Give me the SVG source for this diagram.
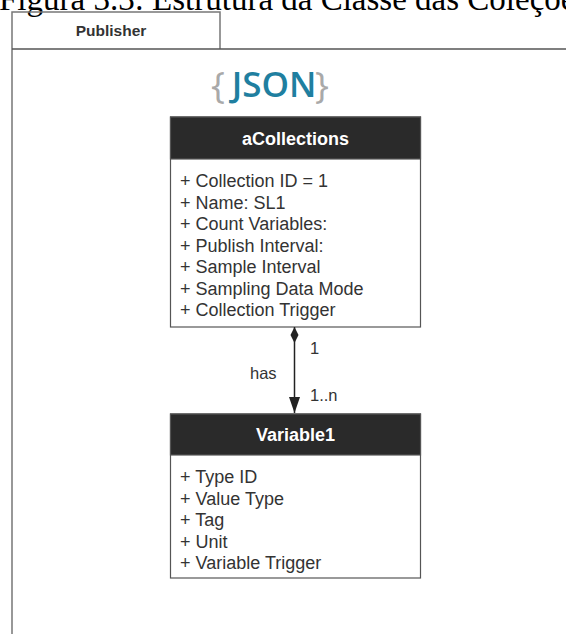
<svg xmlns="http://www.w3.org/2000/svg" width="566" height="634" viewBox="0 0 566 634">
  <style>
    .caption { font-family: "Liberation Serif", "Times New Roman", serif; font-size: 33px; fill: #000; }
    .tab-label { font-family: "Liberation Sans", Arial, sans-serif; font-size: 15.5px; font-weight: bold; fill: #333; text-anchor: middle; }
    .frame { fill: none; stroke: #777; stroke-width: 1.5; }
    .cls-box { fill: #fff; stroke: #555; stroke-width: 1.2; }
    .cls-head { fill: #2a2a2a; stroke: #555; stroke-width: 1.2; }
    .cls-title { font-family: "Liberation Sans", Arial, sans-serif; font-size: 18px; font-weight: bold; fill: #fff; text-anchor: middle; }
    .attr { font-family: "Liberation Sans", Arial, sans-serif; font-size: 18px; fill: #333; }
    .lbl { font-family: "Liberation Sans", Arial, sans-serif; font-size: 16.5px; fill: #333; }
    .link { stroke: #222; stroke-width: 1.5; fill: none; }
    .brace { font-family: "Open Sans", sans-serif; font-size: 37px; font-weight: 400; fill: #a9a9a9; }
  </style>
  <defs>
    <marker id="diamond" viewBox="0 0 16 10" refX="0" refY="5" markerWidth="16" markerHeight="10" markerUnits="userSpaceOnUse" orient="auto">
      <path d="M0,5 L8,1 L16,5 L8,9 Z" fill="#222"/>
    </marker>
    <marker id="arrow" viewBox="0 0 16 12" refX="16" refY="6" markerWidth="16" markerHeight="12" markerUnits="userSpaceOnUse" orient="auto">
      <path d="M0,0.5 L16,6 L0,11.5 Z" fill="#222"/>
    </marker>
  </defs>

  <rect width="566" height="634" fill="#fff"/>

  <!-- figure caption, partly above the top edge -->
  <text class="caption" x="-1" y="10">Figura 3.3: Estrutura da Classe das Coleções</text>

  <!-- Publisher package frame -->
  <g id="publisher">
    <path class="frame" d="M12,634 V12 H220 V49"/>
    <path d="M12,49 H566" stroke="#555" stroke-width="1.5" fill="none"/>
    <text class="tab-label" x="111" y="36">Publisher</text>
  </g>

  <!-- JSON logo -->
  <g id="json-logo">
    <text class="brace" x="211" y="98">{</text>
    <text x="274" y="97" font-family="'Open Sans', sans-serif" font-size="35" font-weight="600" fill="#1f7fa0" text-anchor="middle">JSON</text>
    <text class="brace" x="315" y="98">}</text>
  </g>

  <!-- aCollections class -->
  <g id="aCollections">
    <rect class="cls-box" x="170.5" y="117" width="250" height="210"/>
    <rect class="cls-head" x="170.5" y="117" width="250" height="42"/>
    <text class="cls-title" x="295.5" y="144.5">aCollections</text>
    <text class="attr" x="180" y="187">+ Collection ID = 1</text>
    <text class="attr" x="180" y="208.5">+ Name: SL1</text>
    <text class="attr" x="180" y="230">+ Count Variables:</text>
    <text class="attr" x="180" y="251.5">+ Publish Interval:</text>
    <text class="attr" x="180" y="273">+ Sample Interval</text>
    <text class="attr" x="180" y="294.5">+ Sampling Data Mode</text>
    <text class="attr" x="180" y="316">+ Collection Trigger</text>
  </g>

  <!-- Variable1 class -->
  <g id="Variable1">
    <rect class="cls-box" x="170.5" y="414" width="250" height="164"/>
    <rect class="cls-head" x="170.5" y="414" width="250" height="41"/>
    <text class="cls-title" x="295.5" y="441">Variable1</text>
    <text class="attr" x="180" y="483">+ Type ID</text>
    <text class="attr" x="180" y="504.5">+ Value Type</text>
    <text class="attr" x="180" y="526">+ Tag</text>
    <text class="attr" x="180" y="547.5">+ Unit</text>
    <text class="attr" x="180" y="569">+ Variable Trigger</text>
  </g>

  <!-- composition: aCollections has 1..n Variable -->
  <g id="connectors">
    <line class="link" x1="294.5" y1="327" x2="294.5" y2="413" marker-start="url(#diamond)" marker-end="url(#arrow)"/>
    <text class="lbl" x="310" y="354">1</text>
    <text class="lbl" x="250" y="379">has</text>
    <text class="lbl" x="310" y="401">1..n</text>
  </g>
</svg>
